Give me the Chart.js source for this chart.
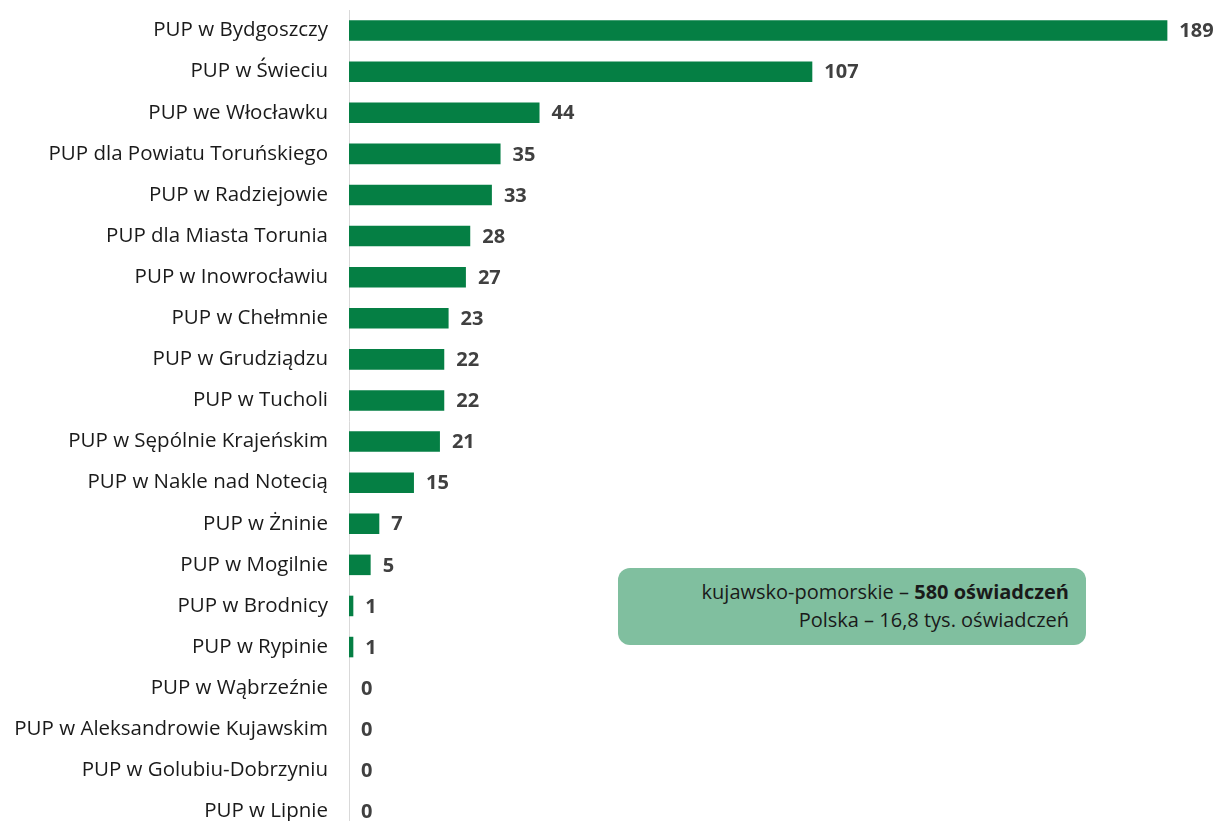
<!DOCTYPE html>
<html>
<head>
<meta charset="utf-8">
<script src="https://cdn.jsdelivr.net/npm/chart.js@4.4.1/dist/chart.umd.min.js"></script>
<style>
    html, body { margin: 0; padding: 0; background: #fff; overflow: hidden; }
    #wrap { position: relative; width: 1217px; height: 821px; }
    #note {
        position: absolute; left: 618px; top: 568px; width: 468px; height: 77px;
        box-sizing: border-box; padding: 10px 17px 0 0;
        background: #80bf9f; border-radius: 12px;
        font-family: 'Open Sans', sans-serif; font-size: 20px; line-height: 28px;
        color: #1a1a1a; text-align: right;
    }
</style>
</head>
<body>
<div id="wrap">
    <canvas id="chart" width="1217" height="835"></canvas>
    <div id="note">kujawsko-pomorskie – <b>580 oświadczeń</b><br>Polska – 16,8 tys. oświadczeń</div>
</div>
<script>
const offices = [
    'PUP w Bydgoszczy', 'PUP w Świeciu', 'PUP we Włocławku', 'PUP dla Powiatu Toruńskiego',
    'PUP w Radziejowie', 'PUP dla Miasta Torunia', 'PUP w Inowrocławiu', 'PUP w Chełmnie',
    'PUP w Grudziądzu', 'PUP w Tucholi', 'PUP w Sępólnie Krajeńskim', 'PUP w Nakle nad Notecią',
    'PUP w Żninie', 'PUP w Mogilnie', 'PUP w Brodnicy', 'PUP w Rypinie',
    'PUP w Wąbrzeźnie', 'PUP w Aleksandrowie Kujawskim', 'PUP w Golubiu-Dobrzyniu', 'PUP w Lipnie'
];
const declarations = [189, 107, 44, 35, 33, 28, 27, 23, 22, 22, 21, 15, 7, 5, 1, 1, 0, 0, 0, 0];

// value labels to the right of each bar
const valueLabels = {
    id: 'valueLabels',
    afterDatasetsDraw(chart) {
        const ctx = chart.ctx;
        const meta = chart.getDatasetMeta(0);
        ctx.save();
        ctx.font = 'bold 20px "Open Sans", sans-serif';
        ctx.fillStyle = '#404040';
        ctx.textAlign = 'left';
        ctx.textBaseline = 'middle';
        meta.data.forEach((bar, i) => {
            ctx.fillText(declarations[i], bar.x + 12, bar.y + 1);
        });
        ctx.restore();
    }
};

new Chart(document.getElementById('chart'), {
    type: 'bar',
    data: {
        labels: offices,
        datasets: [{
            data: declarations,
            backgroundColor: '#057f44',
            borderWidth: 0,
            barPercentage: 0.5,
            categoryPercentage: 1
        }]
    },
    options: {
        indexAxis: 'y',
        responsive: false,
        animation: false,
        layout: { padding: { top: 10, bottom: 3, right: 2, left: 0 } },
        plugins: { legend: { display: false }, tooltip: { enabled: false } },
        scales: {
            x: { display: false, min: 0, max: 200 },
            y: {
                afterFit(scale) {
                    scale.width = 349;
                    scale.paddingTop = 0;
                    scale.paddingBottom = 0;
                },
                grid: { display: false, drawTicks: false },
                border: { display: true, color: '#d9d9d9', width: 1 },
                ticks: {
                    padding: 21,
                    color: '#1a1a1a',
                    font: { family: '"Open Sans", sans-serif', size: 20.5 }
                }
            }
        }
    },
    plugins: [valueLabels]
});
</script>
</body>
</html>
